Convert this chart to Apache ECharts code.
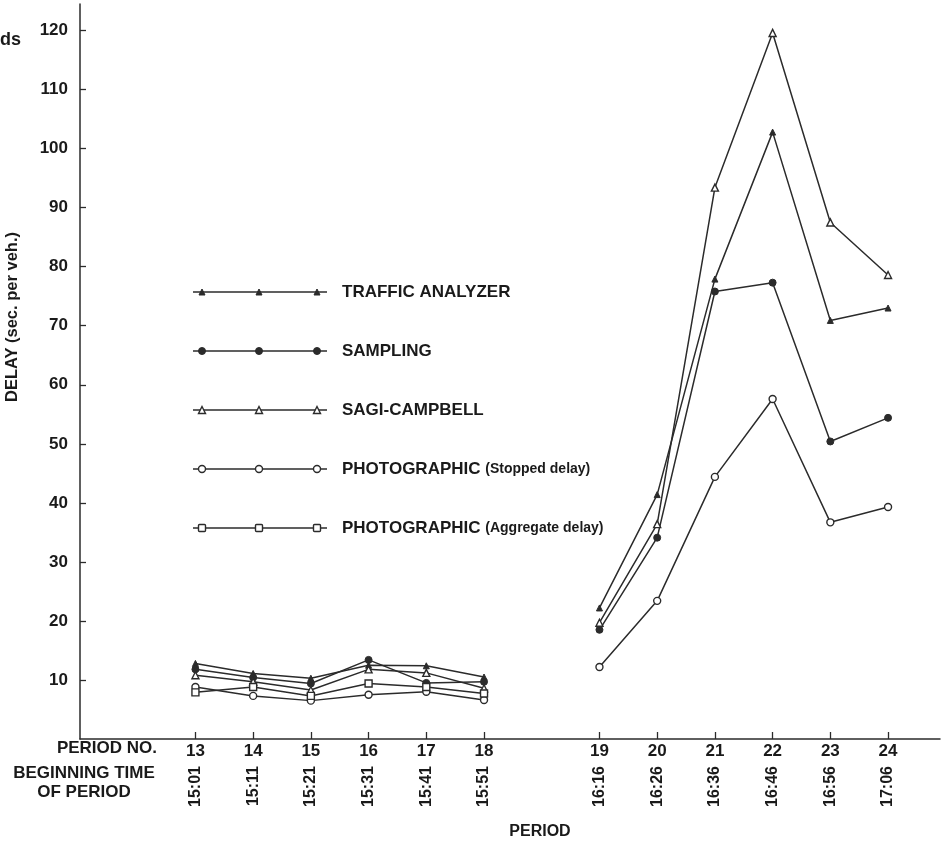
<!DOCTYPE html>
<html><head><meta charset="utf-8">
<script src="https://cdn.jsdelivr.net/npm/echarts@6/dist/echarts.min.js"></script>
<style>html,body{margin:0;padding:0;background:#fff}#c{width:944px;height:849px}</style>
</head><body><div id="c"></div>
<script>
// ---- data ----
const periodNos = [13, 14, 15, 16, 17, 18, 19, 20, 21, 22, 23, 24];
const startTimes = ['15:01', '15:11', '15:21', '15:31', '15:41', '15:51', '16:16', '16:26', '16:36', '16:46', '16:56', '17:06'];
const yTicks = [10, 20, 30, 40, 50, 60, 70, 80, 90, 100, 110, 120];
const seriesNames = ['TRAFFIC ANALYZER', 'SAMPLING', 'SAGI-CAMPBELL', 'PHOTOGRAPHIC (Stopped delay)', 'PHOTOGRAPHIC (Aggregate delay)'];
const trafficAnalyzer = [12.8, 11.1, 10.3, 12.5, 12.4, 10.5, 22.2, 41.4, 77.9, 102.8, 70.9, 73.0];
const sampling = [11.8, 10.4, 9.4, 13.4, 9.5, 9.7, 18.5, 34.1, 75.8, 77.3, 50.4, 54.4];
const sagiCampbell = [10.8, 9.7, 8.3, 11.8, 11.2, 8.6, 19.7, 36.4, 93.4, 119.6, 87.5, 78.6];
const photoStopped = [8.8, 7.3, 6.5, 7.5, 8.0, 6.6, 12.2, 23.4, 44.4, 57.6, 36.7, 39.3];
const photoAggregate = [7.9, 8.8, 7.3, 9.4, 8.8, 7.7, null, null, null, null, null, null];

// ---- layout helpers ----
const INK = '#2b2b2b';
const SANS = '"Liberation Sans", Arial, sans-serif';
// periods 19+ are shifted one slot to the right (gap in the time sequence)
const xPos = p => p - periodNos[0] + (p >= 19 ? 1 : 0);
const xTickVals = periodNos.map(xPos);
const labelFor = (arr) => (v) => { const i = xTickVals.indexOf(Math.round(v)); return i >= 0 ? String(arr[i]) : ''; };

function build(vals) {
  const out = [];
  periodNos.forEach((p, i) => {
    if (p === 19) out.push([xPos(18) + 1, null]); // break the line across the gap
    out.push([xPos(p), vals[i]]);
  });
  return out;
}

const markerDefs = [
  { symbol: 'triangle', size: 6, filled: true },
  { symbol: 'circle', size: 7, filled: true },
  { symbol: 'triangle', size: 7, filled: false },
  { symbol: 'circle', size: 7, filled: false },
  { symbol: 'rect', size: 7, filled: false }
];
const allVals = [trafficAnalyzer, sampling, sagiCampbell, photoStopped, photoAggregate];

const series = allVals.map((vals, k) => ({
  name: seriesNames[k],
  type: 'line',
  data: build(vals),
  symbol: markerDefs[k].symbol,
  symbolSize: markerDefs[k].size,
  showSymbol: true,
  connectNulls: false,
  lineStyle: { color: INK, width: 1.5 },
  itemStyle: markerDefs[k].filled
    ? { color: INK, borderColor: INK, borderWidth: 1 }
    : { color: '#fff', borderColor: INK, borderWidth: 1.4 },
  emphasis: { disabled: true },
  z: 3
}));

// ---- legend (drawn as graphic) ----
const legendGraphics = [];
const legX = [202, 259, 317];
seriesNames.forEach((name, k) => {
  const y = 292 + k * 59;
  legendGraphics.push({ type: 'line', shape: { x1: 193, y1: y, x2: 327, y2: y }, style: { stroke: INK, lineWidth: 1.5 } });
  const m = markerDefs[k];
  const st = m.filled ? { fill: INK, stroke: INK, lineWidth: 1 } : { fill: '#fff', stroke: INK, lineWidth: 1.4 };
  legX.forEach(x => {
    const r = m.size / 2;
    if (m.symbol === 'circle') legendGraphics.push({ type: 'circle', shape: { cx: x, cy: y, r: r }, style: st });
    else if (m.symbol === 'triangle') legendGraphics.push({ type: 'polygon', shape: { points: [[x, y - r], [x + r, y + r], [x - r, y + r]] }, style: st });
    else legendGraphics.push({ type: 'rect', shape: { x: x - r, y: y - r, width: 2 * r, height: 2 * r, r: 1 }, style: st });
  });
  const mt = name.match(/^(\S+) (\(.*\))$/);
  legendGraphics.push({
    type: 'text', x: 342, y: y,
    style: {
      text: mt ? mt[1] + ' {s|' + mt[2] + '}' : name,
      font: 'bold 17px ' + SANS, fill: '#1a1a1a', verticalAlign: 'middle',
      rich: { s: { font: 'bold 14px ' + SANS, fill: '#1a1a1a' } }
    }
  });
});

const chart = echarts.init(document.getElementById('c'), null, { renderer: 'canvas' });
chart.setOption({
  animation: false,
  backgroundColor: '#fff',
  grid: { left: 80, right: 4, top: 4, bottom: 110, containLabel: false },
  xAxis: [{
    type: 'value', min: -2, max: 12.9,
    axisLine: { show: true, onZero: false, lineStyle: { color: INK, width: 1.5 } },
    axisTick: { show: true, inside: true, length: 7, customValues: xTickVals, lineStyle: { color: INK, width: 1.3 } },
    axisLabel: { customValues: xTickVals, formatter: labelFor(periodNos), margin: 4, color: '#1a1a1a', fontFamily: SANS, fontWeight: 'bold', fontSize: 17 },
    splitLine: { show: false }
  }, {
    type: 'value', min: -2, max: 12.9, position: 'bottom',
    axisLine: { show: false }, axisTick: { show: false },
    axisLabel: { customValues: xTickVals, formatter: labelFor(startTimes), rotate: 90, margin: 27, color: '#1a1a1a', fontFamily: SANS, fontWeight: 'bold', fontSize: 16 },
    splitLine: { show: false }
  }],
  yAxis: {
    type: 'value', min: 0, max: 124.5,
    axisLine: { show: true, onZero: false, lineStyle: { color: INK, width: 1.5 } },
    axisTick: { show: true, inside: true, length: 6, customValues: yTicks, lineStyle: { color: INK, width: 1.3 } },
    axisLabel: { customValues: yTicks, margin: 12, color: '#1a1a1a', fontFamily: SANS, fontWeight: 'bold', fontSize: 17 },
    splitLine: { show: false }
  },
  series: series,
  graphic: legendGraphics.concat([
    { type: 'text', x: 157, y: 748, style: { text: 'PERIOD NO.', font: 'bold 17px ' + SANS, fill: '#1a1a1a', align: 'right', verticalAlign: 'middle' } },
    { type: 'text', x: 84, y: 773, style: { text: 'BEGINNING TIME', font: 'bold 17px ' + SANS, fill: '#1a1a1a', align: 'center', verticalAlign: 'middle' } },
    { type: 'text', x: 84, y: 792, style: { text: 'OF PERIOD', font: 'bold 17px ' + SANS, fill: '#1a1a1a', align: 'center', verticalAlign: 'middle' } },
    { type: 'text', x: 540, y: 832, style: { text: 'PERIOD', font: 'bold 16px ' + SANS, fill: '#1a1a1a', align: 'center', verticalAlign: 'middle' } },
    { type: 'text', x: 12, y: 317, rotation: Math.PI / 2, style: { text: 'DELAY (sec. per veh.)', font: 'bold 16.5px ' + SANS, fill: '#1a1a1a', align: 'center', verticalAlign: 'middle' } },
    { type: 'text', x: 0, y: 40, style: { text: 'ds', font: 'bold 18px ' + SANS, fill: '#1a1a1a', align: 'left', verticalAlign: 'middle' } }
  ])
});
</script>
</body></html>
